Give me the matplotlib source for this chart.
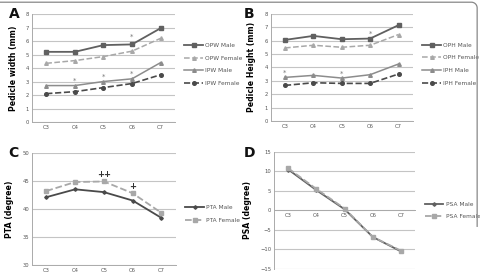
import matplotlib.pyplot as plt
import matplotlib.lines as mlines
import numpy as np

levels = ['C3', 'C4', 'C5', 'C6', 'C7']

# A - pedicle width (mm)
opw_male = [5.2, 5.2, 5.7, 5.75, 6.95]
opw_female = [4.35, 4.55, 4.85, 5.25, 6.2]
ipw_male = [2.7, 2.7, 3.0, 3.2, 4.4]
ipw_female = [2.1, 2.25, 2.55, 2.85, 3.5]

# B - pedicle height (mm)
oph_male = [6.05, 6.35, 6.1, 6.15, 7.15]
oph_female = [5.45, 5.65, 5.5, 5.65, 6.45]
iph_male = [3.25, 3.4, 3.2, 3.45, 4.25]
iph_female = [2.65, 2.85, 2.8, 2.8, 3.5]

# C - PTA (degree)
pta_male = [42.1, 43.5, 43.0, 41.5, 38.4]
pta_female = [43.2, 44.8, 44.9, 42.8, 39.3]

# D - PSA (degree)
psa_male = [10.5, 5.2, 0.3, -6.8, -10.5]
psa_female = [10.8, 5.5, 0.5, -6.8, -10.3]

# significance marks: (level index, y, text)
marks_a = [(1, 3.05, '*'), (2, 3.35, '*'), (3, 3.55, '*'), (3, 6.3, '*')]
marks_b = [(0, 3.6, '*'), (2, 3.55, '*'), (3, 6.5, '*')]
marks_c = [(2, 46.2, '++'), (3, 44.0, '+')]

DARK = '#606060'
MID = '#8c8c8c'
LIGHT = '#a8a8a8'
DARKER = '#4a4a4a'
GRID = '#c4c4c4'

fig = plt.figure(figsize=(4.81, 2.76), dpi=100)
x = np.arange(len(levels))


def style_axes(ax, ylim, yticks, ylabel):
    ax.set_xlim(-0.5, len(levels) - 0.5)
    ax.set_ylim(*ylim)
    ax.set_yticks(yticks)
    ax.set_xticks(x)
    ax.set_xticklabels(levels)
    ax.tick_params(labelsize=3.8, length=0, pad=2, colors='#555555')
    ax.yaxis.grid(True, color=GRID, linewidth=0.8)
    ax.set_axisbelow(True)
    for s in ['top', 'right']:
        ax.spines[s].set_visible(False)
    for s in ['left', 'bottom']:
        ax.spines[s].set_color('#aaaaaa')
        ax.spines[s].set_linewidth(0.7)
    ax.set_ylabel(ylabel, fontsize=5.6, fontweight='bold', labelpad=6)


def add_legend(ax, y0):
    ax.legend(loc='upper left', bbox_to_anchor=(1.03, y0), frameon=False,
              fontsize=4.2, handlelength=3.2, labelspacing=1.3,
              handletextpad=0.4, labelcolor='#555555')


# Panel A
axA = fig.add_axes([0.0665, 0.558, 0.297, 0.391])
axA.plot(x, opw_male, color=DARK, lw=1.3, marker='s', ms=2.8, label='OPW Male')
axA.plot(x, opw_female, color=LIGHT, lw=1.1, ls='--', marker='^', ms=2.6, label='OPW Female')
axA.plot(x, ipw_male, color=MID, lw=1.1, marker='^', ms=2.6, label='IPW Male')
axA.plot(x, ipw_female, color=DARKER, lw=1.2, ls='--', marker='o', ms=2.6, label='IPW Female')
style_axes(axA, (0, 8), range(0, 9), 'Pedicle width (mm)')
for i, yv, t in marks_a:
    axA.text(i, yv, t, ha='center', va='center', fontsize=5, color='#777777')
add_legend(axA, 0.78)

# Panel B
axB = fig.add_axes([0.563, 0.562, 0.295, 0.388])
axB.plot(x, oph_male, color=DARK, lw=1.3, marker='s', ms=2.8, label='OPH Male')
axB.plot(x, oph_female, color=LIGHT, lw=1.1, ls='--', marker='^', ms=2.6, label='OPH Female')
axB.plot(x, iph_male, color=MID, lw=1.1, marker='^', ms=2.6, label='IPH Male')
axB.plot(x, iph_female, color=DARKER, lw=1.2, ls='--', marker='o', ms=2.6, label='IPH Female')
style_axes(axB, (0, 8), range(0, 9), 'Pedicle Height (mm)')
for i, yv, t in marks_b:
    axB.text(i, yv, t, ha='center', va='center', fontsize=5, color='#777777')
add_legend(axB, 0.78)

# Panel C
axC = fig.add_axes([0.0665, 0.040, 0.299, 0.406])
axC.plot(x, pta_male, color=DARKER, lw=1.3, marker='D', ms=1.8, label='PTA Male')
axC.plot(x, pta_female, color=LIGHT, lw=1.3, ls='--', marker='s', ms=2.8, label='PTA Female')
style_axes(axC, (30, 50), range(30, 51, 5), 'PTA (degree)')
for i, yv, t in marks_c:
    axC.text(i, yv, t, ha='center', va='center', fontsize=6, fontweight='bold', color='#333333')
add_legend(axC, 0.58)

# Panel D
axD = fig.add_axes([0.570, 0.0254, 0.293, 0.424])
axD.plot(x, psa_male, color=DARK, lw=1.3, marker='D', ms=1.8, label='PSA Male')
axD.plot(x, psa_female, color=LIGHT, lw=1.3, ls='--', marker='s', ms=2.8, label='PSA Female')
style_axes(axD, (-15, 15), range(-15, 16, 5), 'PSA (degree)')
axD.spines['bottom'].set_position(('data', 0))
add_legend(axD, 0.62)

# panel letters
for lbl, xf, yf in [('A', 0.018, 0.935), ('B', 0.506, 0.935),
                    ('C', 0.018, 0.432), ('D', 0.506, 0.432)]:
    fig.text(xf, yf, lbl, fontsize=10, fontweight='bold', color='#111111',
             va='baseline')

# outer frame line (top edge with rounded corner down the right side)
t = np.linspace(0, np.pi / 2, 20)
r = 0.012
cx, cy = 0.992 - r, 0.992 - r * 481 / 276
fx = np.concatenate([[0.0], cx + r * np.sin(t), [0.992]])
fy = np.concatenate([[0.992], cy + r * 481 / 276 * np.cos(t), [0.18]])
fig.add_artist(mlines.Line2D(fx, fy, transform=fig.transFigure,
                             color='#888888', lw=0.9))

fig.savefig('out.png', dpi=100)
